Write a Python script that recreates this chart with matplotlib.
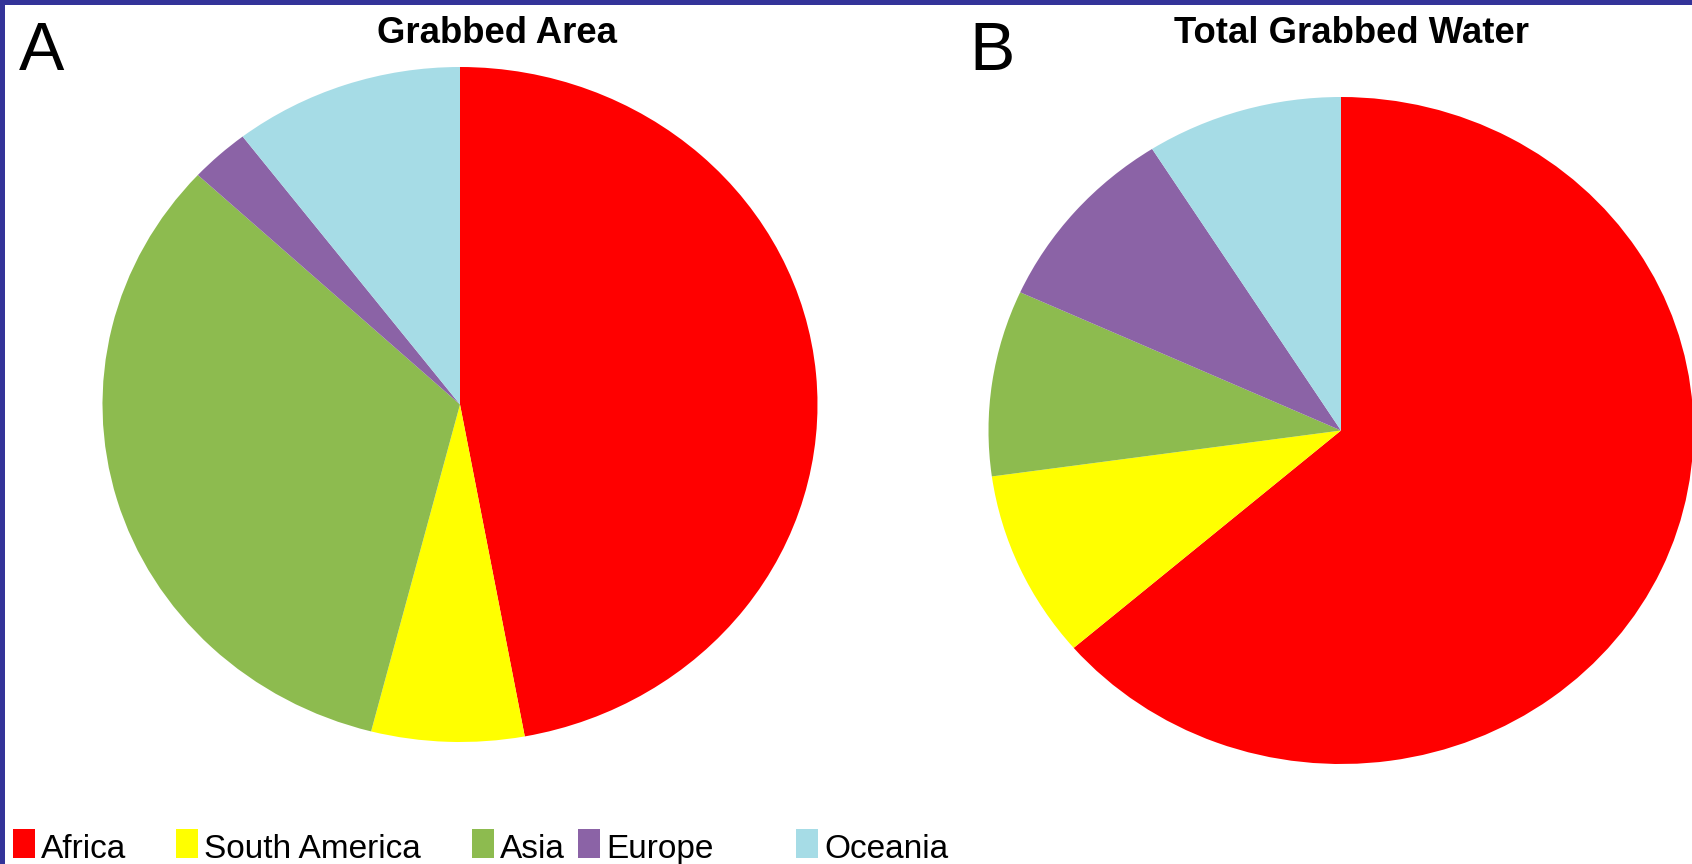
import matplotlib
matplotlib.use('Agg')
import matplotlib.pyplot as plt
from matplotlib.patches import Rectangle

regions = ['Africa', 'South America', 'Asia', 'Europe', 'Oceania']
area_share = [47.1, 6.9, 32.9, 2.7, 10.4]
water_share = [63.7, 9.1, 9.0, 9.2, 9.0]
colors = ['#FF0000', '#FFFF00', '#8DBB4F', '#8B63A6', '#A6DCE6']

W, H = 1692, 864
fig = plt.figure(figsize=(W / 100, H / 100), dpi=100)
fig.patch.set_facecolor('white')

sans = 'Liberation Sans'


def px_axes(cx, cy, rx, ry):
    # axes box in pixels (from top-left) -> figure fraction
    return fig.add_axes([(cx - rx) / W, (H - cy - ry) / H, 2 * rx / W, 2 * ry / H])


axA = px_axes(460, 404.5, 357.5, 337.5)
axB = px_axes(1341, 430.5, 352.5, 333.5)

for ax, vals in [(axA, area_share), (axB, water_share)]:
    ax.pie(vals, colors=colors, startangle=90, counterclock=False,
           radius=1, wedgeprops={'linewidth': 0})
    ax.set_xlim(-1, 1)
    ax.set_ylim(-1, 1)
    ax.set_aspect('auto')
    ax.axis('off')

fig.text(497 / W, 1 - 43 / H, 'Grabbed Area', ha='center', va='baseline',
         fontsize=26.3, fontweight='bold', family=sans)
fig.text(1351 / W, 1 - 43 / H, 'Total Grabbed Water', ha='center', va='baseline',
         fontsize=26.3, fontweight='bold', family=sans)
fig.text(19 / W, 1 - 70 / H, 'A', ha='left', va='baseline', fontsize=49, family=sans)
fig.text(969 / W, 1 - 70 / H, 'B', ha='left', va='baseline', fontsize=49, family=sans)

# legend, laid out like the original (uneven column widths)
box_x = [13, 176, 472, 578, 796]
for x, name, c in zip(box_x, regions, colors):
    fig.patches.append(Rectangle((x / W, 1 - 858 / H), 22 / W, 29 / H,
                                 transform=fig.transFigure, facecolor=c,
                                 edgecolor='none'))
    fig.text((x + 28) / W, 1 - 858 / H, name, ha='left', va='baseline',
             fontsize=24, family=sans)

# blue frame on top and left edges
fig.patches.append(Rectangle((0, 1 - 5 / H), 1, 5 / H, transform=fig.transFigure,
                             facecolor='#333399', edgecolor='none', zorder=10))
fig.patches.append(Rectangle((0, 0), 5 / W, 1, transform=fig.transFigure,
                             facecolor='#333399', edgecolor='none', zorder=10))

fig.savefig('out.png', dpi=100)
